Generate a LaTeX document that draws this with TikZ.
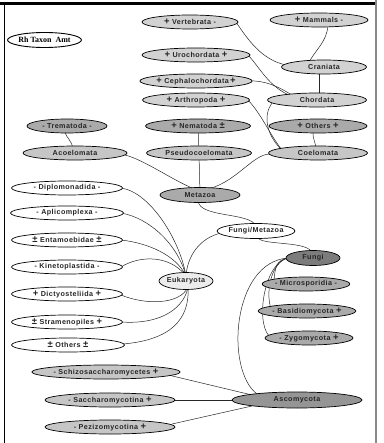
\documentclass[tikz,border=0pt]{standalone}
\usepackage{fontspec}
\usetikzlibrary{shapes.geometric,backgrounds,calc}
\newfontfamily\labfont[LetterSpace=6]{Liberation Sans}
\newfontfamily\rhfont{Liberation Serif}
\definecolor{cL}{HTML}{D2D2D2}
\definecolor{cM}{HTML}{C6C6C6}
\definecolor{cD}{HTML}{AAAAAA}
\definecolor{cF}{HTML}{7C7C7C}
\definecolor{cA}{HTML}{959595}
\definecolor{cE}{HTML}{ECECEC}
\definecolor{cBorder}{HTML}{8A8A8A}
\newcommand{\Pl}{{\fontsize{9.5}{9}\selectfont +}}
\newcommand{\Mi}{-}
\newcommand{\PMs}{{\fontsize{9.5}{9}\selectfont ±}}
\newcommand{\gp}{\hspace*{2.5bp}}
\tikzset{
  tx/.style={ellipse, draw=black, line width=0.7pt, inner sep=0pt, minimum height=14bp,
    font=\labfont\bfseries\fontsize{7.2}{8}\selectfont, text=black!85},
  nlight/.style={tx, fill=cL},
  nmid/.style={tx, fill=cM},
  ndark/.style={tx, fill=cD},
  nwhite/.style={tx, fill=white},
  nfungi/.style={tx, fill=cF},
  nasco/.style={tx, fill=cA},
  neuk/.style={tx, fill=cE},
  link/.style={draw=black!85, line width=0.5pt},
}
\begin{document}
\begin{tikzpicture}[x=1bp,y=-1bp]
\useasboundingbox (0,0) rectangle (383,443);
% frame
\draw[line width=2.5bp] (0,3.5) -- (377,3.5);
\draw[line width=1bp] (4.5,3.5) -- (4.5,443);
\draw[line width=2bp, cBorder] (376,0) -- (376,443);

% legend
\node[ellipse, draw=black, line width=0.9pt, fill=white, inner sep=0pt, minimum width=56bp, minimum height=15bp,
  font=\rhfont\bfseries\fontsize{8}{8}\selectfont] (leg) at (44.5,40) {Rh Taxon\ \ Amt};

% chordate part
\node[nlight, minimum width=96bp]  (vert) at (190,22)  {\Pl\gp Vertebrata\gp\Mi};
\node[nlight, minimum width=98bp]  (mamm) at (319,20)  {\Pl\gp Mammals\gp\Mi};
\node[nlight, minimum width=108bp] (uro)  at (196,55)  {\Pl\gp Urochordata\gp\Pl};
\node[nlight, minimum width=85bp]  (cran) at (324,67)  {Craniata};
\node[nlight, minimum width=107bp] (ceph) at (196,81)  {\Pl\gp Cephalochordata\,\Pl};
\node[nlight, minimum width=107bp] (arth) at (196,100) {\Pl\gp Arthropoda\gp\Pl};
\node[nlight, minimum width=99bp]  (chor) at (317,100) {Chordata};

\node[ndark, minimum width=80bp]   (trem) at (67,126)  {\Mi\gp Trematoda\gp\Mi};
\node[ndark, minimum width=105bp]  (nema) at (198,126) {\Pl\gp Nematoda\gp\PMs};
\node[ndark, minimum width=98bp]   (oth1) at (318,126) {\Pl\gp Others\gp\Pl};
\node[nmid, minimum width=104bp]   (acoel) at (75,153) {Acoelomata};
\node[nmid, minimum width=105bp]   (pseudo) at (199,153) {Pseudocoelomata};
\node[nmid, minimum width=99bp]    (coel) at (318,153) {Coelomata};
\node[ndark, minimum width=80bp, minimum height=15bp] (meta) at (200,195) {Metazoa};

% protists
\node[nwhite, minimum width=111bp] (dipl) at (67,188) {\Mi\gp Diplomonadida\gp\Mi};
\node[nwhite, minimum width=113bp] (apli) at (67,213) {\Mi\gp Aplicomplexa\gp\Mi};
\node[nwhite, minimum width=111bp] (enta) at (67,240) {\PMs\gp Entamoebidae\gp\PMs};
\node[nwhite, minimum width=111bp] (kine) at (67,267) {\Mi\gp Kinetoplastida\gp\Mi};
\node[nwhite, minimum width=111bp] (dict) at (67,294) {\Pl\gp Dictyosteliida\gp\Pl};
\node[nwhite, minimum width=111bp] (stra) at (67,322) {\PMs\gp Stramenopiles\gp\Pl};
\node[nwhite, minimum width=113bp] (oth2) at (68,345) {\PMs\gp Others\gp\PMs};

\node[nwhite, minimum width=75bp, minimum height=15bp] (fm) at (256,231) {Fungi/Metazoa};
\node[neuk, minimum width=54bp, minimum height=17bp] (euk) at (186,281) {Eukaryota};

% fungi
\node[nfungi, minimum width=54bp, minimum height=15bp] (fungi) at (313,258) {Fungi};
\node[ndark, minimum width=78bp] (micro) at (306,284) {\Mi\gp Microsporidia\gp\Mi};
\node[ndark, minimum width=77bp] (basid) at (307,311) {\Mi\gp Basidiomycota\gp\Pl};
\node[ndark, minimum width=88bp] (zygo) at (309,338) {\Mi\gp Zygomycota\gp\Pl};
\node[nasco, minimum width=130bp, minimum height=16bp] (asco) at (297,400) {Ascomycota};
\node[nmid, minimum width=122bp] (schizo) at (106,372) {\Mi\gp Schizosaccharomycetes\gp\Pl};
\node[nmid, minimum width=130bp] (sacch) at (110,400) {\Mi\gp Saccharomycotina\gp\Pl};
\node[nmid, minimum width=130bp] (pezi) at (110,427) {\Mi\gp Pezizomycotina\gp\Pl};

\begin{scope}[on background layer]
% chordates
\draw[link] ($(vert)+(46,0)$) .. controls (248,40) and (262,60) .. ($(cran)+(-38,-2)$);
\draw[link] ($(mamm)+(9,5)$) .. controls (327,42) and (315,50) .. ($(cran)+(-16,-3)$);
\draw[link] ($(cran)+(-5,0)$) -- ($(chor)+(2,0)$);
\draw[link] ($(uro)+(52,0)$) .. controls (262,70) and (270,90) .. ($(chor)+(-20,-2)$);
\draw[link] ($(ceph)+(52,0)$) .. controls (264,80) and (278,86) .. ($(chor)+(-22,-3)$);
\draw[link] ($(arth)+(52,0)$) .. controls (262,115) and (270,135) .. ($(coel)+(-36,-3)$);
\draw[link] ($(chor)+(-45,3)$) .. controls (263,115) and (266,135) .. ($(coel)+(-36,-3)$);
\draw[link] ($(oth1)+(-5,5)$) .. controls (312,138) and (316,142) .. ($(coel)+(-2,-3)$);
\draw[link] ($(trem)+(-2,5)$) .. controls (66,139) and (72,139) .. ($(acoel)+(-2,-3)$);
\draw[link] (nema) -- (pseudo);
\draw[link] (pseudo) -- (meta);
\draw[link] ($(acoel)+(50,2)$) .. controls (145,160) and (175,182) .. ($(meta)+(-3,-5)$);
\draw[link] ($(coel)+(-48,1)$) .. controls (252,154) and (235,185) .. ($(meta)+(3,-5)$);
\draw[link] ($(meta)+(-2,6)$) .. controls (200,218) and (250,212) .. ($(fm)+(0,-5)$);
\draw[link] ($(fm)+(2,6)$) .. controls (258,246) and (312,240) .. ($(fungi)+(-1,-4)$);
\draw[link] ($(fm)+(-35,2)$) .. controls (200,238) and (188,255) .. ($(euk)+(0,-6)$);
% protists
\draw[link] ($(dipl)+(54,0)$) .. controls (150,192) and (180,240) .. ($(euk)+(0,-5)$);
\draw[link] ($(apli)+(54,0)$) .. controls (150,218) and (178,245) .. ($(euk)+(0,-5)$);
\draw[link] ($(enta)+(54,0)$) .. controls (148,243) and (176,255) .. ($(euk)+(0,-5)$);
\draw[link] ($(kine)+(54,0)$) .. controls (140,255) and (170,255) .. ($(euk)+(0,-5)$);
\draw[link] ($(dict)+(54,1)$) .. controls (145,305) and (180,305) .. ($(euk)+(2,6)$);
\draw[link] ($(stra)+(54,0)$) .. controls (165,325) and (185,305) .. ($(euk)+(2,6)$);
\draw[link] ($(oth2)+(55,-1)$) .. controls (170,340) and (190,320) .. ($(euk)+(2,6)$);
% fungi
\draw[link] ($(fungi)+(-25,0)$) .. controls (276,260) and (275,268) .. ($(micro)+(-32,-3)$);
\draw[link] ($(fungi)+(-25,0)$) .. controls (272,262) and (265,290) .. ($(basid)+(-36,-2)$);
\draw[link] ($(fungi)+(-25,0)$) .. controls (265,262) and (255,320) .. ($(zygo)+(-40,-2)$);
\draw[link] ($(fungi)+(-25,0)$) .. controls (232,262) and (225,370) .. ($(asco)+(-40,-6)$);
\draw[link] ($(schizo)+(58,2)$) -- ($(asco)+(-45,-5)$);
\draw[link] ($(sacch)+(62,0)$) -- ($(asco)+(-60,0)$);
\draw[link] ($(pezi)+(62,-3)$) -- ($(asco)+(-45,6)$);
\end{scope}
\end{tikzpicture}
\end{document}
